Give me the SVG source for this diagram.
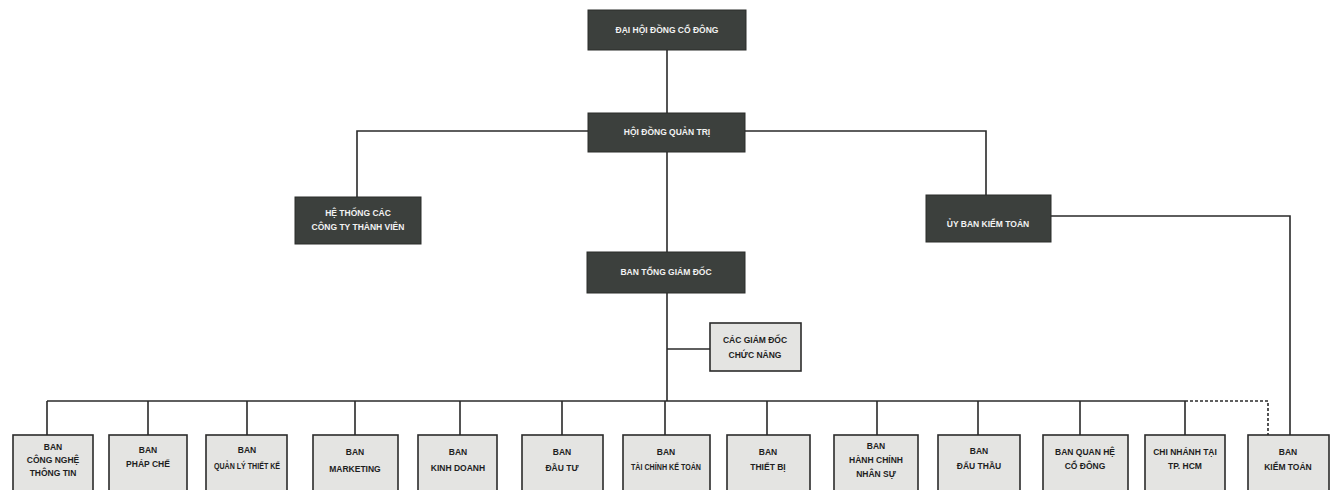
<svg xmlns="http://www.w3.org/2000/svg" width="1331" height="490" viewBox="0 0 1331 490">
<style>
.dk{fill:#3c403d;stroke:#2a2d2b;stroke-width:1}
.lt{fill:#e4e4e2;stroke:#2b2b2b;stroke-width:1.6}
.tw{font-family:"Liberation Sans",Arial,sans-serif;font-size:8.5px;font-weight:bold;fill:#f2f2f2;text-anchor:middle}
.tb{font-family:"Liberation Sans",Arial,sans-serif;font-size:8.5px;font-weight:bold;fill:#1e1e1e;text-anchor:middle}
.ln{stroke:#2a2a2a;stroke-width:1.6;fill:none}
.ds{stroke:#2a2a2a;stroke-width:1.6;fill:none;stroke-dasharray:3 2}
</style>
<rect width="1331" height="490" fill="#ffffff"/>
<g id="connectors">
<path class="ln" d="M667 50V113"/>
<path class="ln" d="M588 131H357V197"/>
<path class="ln" d="M745 131H986V196"/>
<path class="ln" d="M667 152V252"/>
<path class="ln" d="M667 293V401"/>
<path class="ln" d="M667 349H710"/>
<path class="ln" d="M1051 216H1290V435"/>
<path class="ln" d="M47 401H1185"/>
<path class="ds" d="M1185 401H1268V435"/>
<path class="ln" d="M47 401V435M148 401V435M247 401V435M355 401V435M460 401V435M562 401V435M665 401V435M767 401V435M877 401V435M978 401V435M1080 401V435M1185 401V435"/>
</g>
<g id="dhdcd"><rect class="dk" x="588" y="10" width="158" height="40"/><text class="tw" x="667" y="33">ĐẠI HỘI ĐỒNG CỔ ĐÔNG</text></g>
<g id="hdqt"><rect class="dk" x="588" y="113" width="157" height="39"/><text class="tw" x="667" y="135">HỘI ĐỒNG QUẢN TRỊ</text></g>
<g id="htct"><rect class="dk" x="295" y="197" width="126" height="47"/><text class="tw" x="358" y="216">HỆ THỐNG CÁC</text><text class="tw" x="358" y="230">CÔNG TY THÀNH VIÊN</text></g>
<g id="ubkt"><rect class="dk" x="926" y="195" width="125" height="47"/><text class="tw" x="988" y="227">ỦY BAN KIỂM TOÁN</text></g>
<g id="btgd"><rect class="dk" x="587" y="252" width="158" height="41"/><text class="tw" x="666" y="275">BAN TỔNG GIÁM ĐỐC</text></g>
<g id="cgd"><rect class="lt" x="710" y="323" width="91" height="48"/><text class="tb" x="755" y="343">CÁC GIÁM ĐỐC</text><text class="tb" x="755" y="358">CHỨC NĂNG</text></g>
<g id="b1"><rect class="lt" x="13" y="435" width="80" height="60"/><text class="tb" x="53" y="450">BAN</text><text class="tb" x="53" y="463">CÔNG NGHỆ</text><text class="tb" x="53" y="476">THÔNG TIN</text></g>
<g id="b2"><rect class="lt" x="109" y="435" width="78" height="60"/><text class="tb" x="148" y="453">BAN</text><text class="tb" x="148" y="467">PHÁP CHẾ</text></g>
<g id="b3"><rect class="lt" x="206" y="435" width="81" height="60"/><text class="tb" x="247" y="453">BAN</text><text class="tb" x="247" y="469" textLength="66" lengthAdjust="spacingAndGlyphs">QUẢN LÝ THIẾT KẾ</text></g>
<g id="b4"><rect class="lt" x="313" y="435" width="85" height="60"/><text class="tb" x="355" y="455">BAN</text><text class="tb" x="355" y="472">MARKETING</text></g>
<g id="b5"><rect class="lt" x="418" y="435" width="79" height="60"/><text class="tb" x="458" y="455">BAN</text><text class="tb" x="458" y="471">KINH DOANH</text></g>
<g id="b6"><rect class="lt" x="522" y="435" width="81" height="60"/><text class="tb" x="562" y="455">BAN</text><text class="tb" x="562" y="471">ĐẦU TƯ</text></g>
<g id="b7"><rect class="lt" x="623" y="435" width="87" height="60"/><text class="tb" x="666" y="455">BAN</text><text class="tb" x="666" y="470" textLength="70" lengthAdjust="spacingAndGlyphs">TÀI CHÍNH KẾ TOÁN</text></g>
<g id="b8"><rect class="lt" x="727" y="435" width="83" height="60"/><text class="tb" x="768" y="455">BAN</text><text class="tb" x="768" y="470">THIẾT BỊ</text></g>
<g id="b9"><rect class="lt" x="834" y="435" width="84" height="60"/><text class="tb" x="876" y="449">BAN</text><text class="tb" x="876" y="463">HÀNH CHÍNH</text><text class="tb" x="876" y="477">NHÂN SỰ</text></g>
<g id="b10"><rect class="lt" x="938" y="435" width="82" height="60"/><text class="tb" x="979" y="454">BAN</text><text class="tb" x="979" y="469">ĐẤU THẦU</text></g>
<g id="b11"><rect class="lt" x="1043" y="435" width="85" height="60"/><text class="tb" x="1085" y="455">BAN QUAN HỆ</text><text class="tb" x="1085" y="469">CỔ ĐÔNG</text></g>
<g id="b12"><rect class="lt" x="1145" y="435" width="80" height="60"/><text class="tb" x="1185" y="455">CHI NHÁNH TẠI</text><text class="tb" x="1185" y="469">TP. HCM</text></g>
<g id="b13"><rect class="lt" x="1248" y="435" width="81" height="60"/><text class="tb" x="1288" y="455">BAN</text><text class="tb" x="1288" y="470">KIỂM TOÁN</text></g>
</svg>
